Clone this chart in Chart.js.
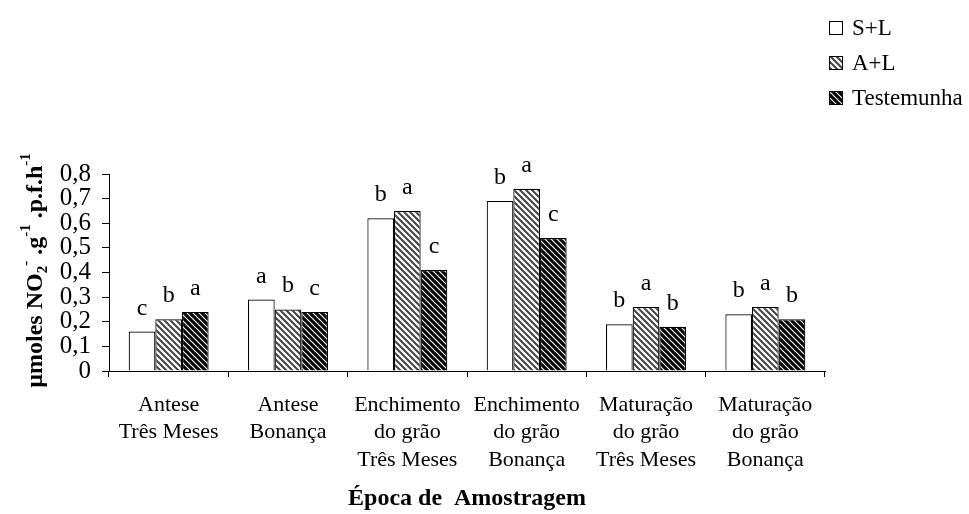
<!DOCTYPE html>
<html>
<head>
<meta charset="utf-8">
<script src="https://cdn.jsdelivr.net/npm/chart.js@4/dist/chart.umd.min.js"></script>
<style>
  html, body { margin: 0; padding: 0; background: #fff; }
  #wrap { width: 969px; height: 514px; position: relative; }
</style>
</head>
<body>
<div id="wrap"><canvas id="grafico" width="969" height="514"></canvas></div>
<script>
// categorias (época de amostragem x cultivar)
const epocas = [
  ["Antese", "Três Meses"],
  ["Antese", "Bonança"],
  ["Enchimento", "do grão", "Três Meses"],
  ["Enchimento", "do grão", "Bonança"],
  ["Maturação", "do grão", "Três Meses"],
  ["Maturação", "do grão", "Bonança"],
];

const tratamentos = ["S+L", "A+L", "Testemunha"];

// µmoles NO2- .g-1 .p.f.h-1
const valoresSL = [0.16, 0.29, 0.62, 0.69, 0.19, 0.23];
const valoresAL = [0.21, 0.25, 0.65, 0.74, 0.26, 0.26];
const valoresTest = [0.24, 0.24, 0.41, 0.54, 0.18, 0.21];

// letras de significância
const letrasSL = ["c", "a", "b", "b", "b", "b"];
const letrasAL = ["b", "b", "a", "a", "a", "a"];
const letrasTest = ["a", "c", "c", "c", "b", "b"];

const ticksY = [0, 0.1, 0.2, 0.3, 0.4, 0.5, 0.6, 0.7, 0.8];

const serif = "'Liberation Serif', 'Times New Roman', serif";

// hachura diagonal "\"
function hachura(fundo, linha, espessura) {
  const c = document.createElement("canvas");
  c.width = 6; c.height = 6;
  const g = c.getContext("2d");
  g.fillStyle = fundo;
  g.fillRect(0, 0, 6, 6);
  g.strokeStyle = linha;
  g.lineWidth = espessura;
  g.beginPath();
  for (let k = -6; k <= 6; k += 6) {
    g.moveTo(k - 1, -1);
    g.lineTo(k + 7, 7);
  }
  g.stroke();
  return g.createPattern(c, "repeat");
}

const preenchimentos = [
  "#ffffff",
  hachura("#ffffff", "#444444", 2),
  hachura("#000000", "#ffffff", 1.1),
];

const letras = [letrasSL, letrasAL, letrasTest];

// letras acima das barras
const pluginLetras = {
  id: "letras",
  afterDatasetsDraw(chart) {
    const ctx = chart.ctx;
    ctx.save();
    ctx.fillStyle = "#000";
    ctx.font = "24px " + serif;
    ctx.textAlign = "center";
    ctx.textBaseline = "alphabetic";
    chart.data.datasets.forEach((ds, i) => {
      chart.getDatasetMeta(i).data.forEach((bar, j) => {
        ctx.fillText(letras[i][j], bar.x, bar.y - 17);
      });
    });
    ctx.restore();
  },
};

// legenda no canto superior direito
const pluginLegenda = {
  id: "legenda",
  afterDraw(chart) {
    const ctx = chart.ctx;
    const linhas = [28, 63, 98];
    ctx.save();
    ctx.font = "23px " + serif;
    ctx.textBaseline = "middle";
    ctx.textAlign = "left";
    chart.data.datasets.forEach((ds, i) => {
      const y = linhas[i];
      ctx.fillStyle = ds.backgroundColor;
      ctx.fillRect(829, y - 7, 13, 13);
      ctx.strokeStyle = "#000";
      ctx.lineWidth = 1;
      ctx.strokeRect(829.5, y - 6.5, 13, 13);
      ctx.fillStyle = "#000";
      ctx.fillText(ds.label, 852, y + 1);
    });
    ctx.restore();
  },
};

// título do eixo y com índices
const pluginTituloY = {
  id: "tituloY",
  afterDraw(chart) {
    const ctx = chart.ctx;
    const area = chart.chartArea;
    const partes = [
      ["µmoles NO", 0],
      ["2", 1],
      ["-", -1],
      [" .g", 0],
      ["-1", -1],
      [" .p.f.h", 0],
      ["-1", -1],
    ];
    const fonte = (p) => "bold " + (p === 0 ? 24 : 15) + "px " + serif;
    let total = 0;
    partes.forEach(([t, p]) => {
      ctx.font = fonte(p);
      total += ctx.measureText(t).width;
    });
    ctx.save();
    ctx.translate(42, (area.top + area.bottom) / 2 - 2);
    ctx.rotate(-Math.PI / 2);
    ctx.fillStyle = "#000";
    ctx.textBaseline = "alphabetic";
    let x = -total / 2;
    partes.forEach(([t, p]) => {
      ctx.font = fonte(p);
      const dy = p === 1 ? 5 : p === -1 ? -12 : 0;
      ctx.fillText(t, x, dy);
      x += ctx.measureText(t).width;
    });
    ctx.restore();
  },
};

new Chart(document.getElementById("grafico"), {
  type: "bar",
  data: {
    labels: epocas,
    datasets: [
      { label: tratamentos[0], data: valoresSL },
      { label: tratamentos[1], data: valoresAL },
      { label: tratamentos[2], data: valoresTest },
    ].map((ds, i) => ({
      ...ds,
      backgroundColor: preenchimentos[i],
      borderColor: "#000",
      borderWidth: 1.2,
      categoryPercentage: 0.67,
      barPercentage: 1.0,
    })),
  },
  options: {
    responsive: false,
    animation: false,
    devicePixelRatio: 1,
    layout: { padding: { left: 0, right: 144, top: 174, bottom: 0 } },
    plugins: {
      legend: { display: false },
      tooltip: { enabled: false },
    },
    scales: {
      x: {
        afterFit: (s) => { s.height = 514 - 371; },
        grid: {
          offset: true,
          drawOnChartArea: false,
          drawTicks: true,
          tickLength: 6,
          color: "#000",
        },
        border: { color: "#000", width: 1 },
        ticks: {
          color: "#000",
          font: { family: serif, size: 22, lineHeight: 1.25 },
          padding: 14,
          maxRotation: 0,
          autoSkip: false,
        },
        title: {
          display: true,
          text: "Época de  Amostragem",
          color: "#000",
          font: { family: serif, size: 24, weight: "bold" },
          padding: { top: 0, bottom: 1 },
        },
      },
      y: {
        min: 0,
        max: 0.8,
        afterFit: (s) => { s.width = 109; },
        afterBuildTicks: (s) => { s.ticks = ticksY.map((v) => ({ value: v })); },
        grid: {
          drawOnChartArea: false,
          drawTicks: true,
          tickLength: 7,
          color: "#000",
        },
        border: { color: "#000", width: 1 },
        ticks: {
          color: "#000",
          font: { family: serif, size: 25, lineHeight: 1 },
          padding: 11,
          autoSkip: false,
          callback: (v) => (v === 0 ? "0" : v.toFixed(1).replace(".", ",")),
        },
      },
    },
  },
  plugins: [pluginLetras, pluginLegenda, pluginTituloY],
});
</script>
</body>
</html>
